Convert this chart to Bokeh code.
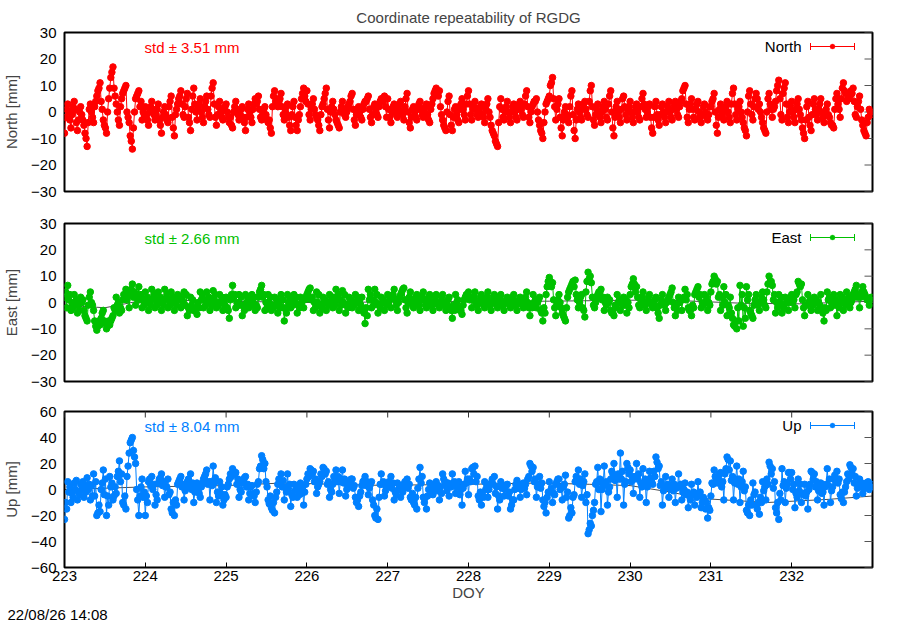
import numpy as np
from bokeh.plotting import figure
from bokeh.models import (Range1d, FixedTicker, LinearAxis, Label, Arrow, TeeHead,
                          BoxAnnotation, Title)
from bokeh.layouts import column
from bokeh.embed import file_html
from bokeh.resources import INLINE

# ---------------- data ----------------
start_doy = 223
samples_per_day = 25          # main epochs; two more epochs lie between each pair
x_min, x_max = 223, 233
x_ticks = [223, 224, 225, 226, 227, 228, 229, 230, 231, 232]
neu_ticks = [-30, -20, -10, 0, 10, 20, 30]
up_ticks = [-60, -40, -20, 0, 20, 40, 60]

north = [
    -8, 3, -6, 4, -7, 2, -5, -13, 3, -4, 6, 11, -3, -8, 9, 17, 3, -5, 7, 10, -4, -14, 5, 8, -3,
    2, -5, 4, -3, 3, -8, 2, -4, 6, -9, 3, 8, -2, 7, -7, 9, -3, 5, -4, 6, -2, 11, -5, 4, -3,
    3, -4, -6, 4, -3, 2, -7, 3, -4, 5, 6, -3, 2, -4, -8, 8, 2, 7, -3, 3, -7, 4, -7, 2, 9,
    8, -3, 5, -2, -7, 3, 9, -6, 4, -3, -6, 4, -2, 3, 7, -5, 2, -3, 4, 6, -4, 3, -2, 5, 6,
    5, -4, 3, -2, 4, -3, 7, -6, 2, -3, 4, -2, 3, -4, 5, 9, 8, -3, -7, 6, -7, 2, -4, 5, -3,
    8, -3, 4, -2, 3, -4, 5, -5, -9, -13, 5, -3, 4, -4, 3, -3, 4, -2, 8, -4, 3, 5, -5, -10, 3,
    6, 13, -3, 5, -9, 2, -4, 8, -10, 3, -3, 4, -2, 10, -5, 3, -4, 4, -3, 8, -9, 4, -4, 6, -3,
    4, -4, 3, -3, 7, -2, 3, -8, 4, -5, 3, -4, 4, -3, 4, -2, 5, 10, -4, 5, -3, 4, -4, 3, -3,
    2, 7, -8, 3, -3, 4, -4, 9, -3, 4, -4, -9, 8, -3, 7, 3, -4, -8, 7, -2, 4, 12, -3, 11, -4,
    4, -4, 5, -3, -10, 4, -7, 5, -3, 5, -4, 3, -4, -6, 7, -2, 11, 4, 6, 9, -2, 6, -5, -9, 1,
]
north_mid = [
    -2, 0, -1, 1, -3, -1, -8, -4, 0, 2, 8, 4, -5, 0, 13, 9, 0, 2, 8, 0, -9, -6, 6, 2, 0,
    -1, 0, 1, -1, -3, -2, -1, 2, -2, -1, 5, 3, 2, -2, 1, 3, 1, 0, 2, 1, 6, 3, -1, 0, 1,
    0, -2, 0, 1, -1, -2, -2, 0, 1, 3, 1, -1, -1, -3, 2, 4, 4, 2, 0, -2, -1, -2, -3, 5, 6,
    3, 1, 1, -3, -1, 5, 1, 0, 1, -4, 0, 1, 0, 4, 1, -1, 0, 1, 4, 1, -1, 0, 2, 5, 2,
    1, 0, 1, 1, 0, 2, 0, -2, 0, 1, 1, 0, -1, 1, 7, 8, 2, -5, 0, -1, -2, -1, 1, 1, 3,
    3, 1, 1, 0, -1, 1, 0, -7, -11, -4, 1, 0, 0, 0, 0, 1, 1, 3, 2, 0, 4, 0, -7, -4, 4,
    10, 5, 1, -2, -3, -1, 2, -1, -3, 0, 1, 1, 4, 2, -1, 0, 0, 1, 3, 0, -2, 0, 1, 2, 1,
    0, 0, 0, 2, 3, 0, -2, -2, -1, -1, 0, 0, 0, 1, 1, 2, 8, 3, 1, 1, 1, 0, -1, 0, -1,
    4, 0, -2, 0, 1, 0, 3, 3, 1, 0, -6, 0, 3, 2, 5, 0, -6, 0, 3, 1, 8, 5, 7, 3, 0,
    0, 1, 1, -6, -3, -2, -1, 1, 1, 0, 0, -1, -5, 1, 3, 5, 8, 5, 8, 4, 2, 1, -7, -4, 0,
]
north_mid2 = [
    1, -3, 2, -4, 0, -3, -10, 1, -2, 4, 9, 1, -6, 5, 15, 6, -3, 5, 9, -2, -11, 0, 7, 4, -1,
    -3, 2, -1, 1, -5, 0, -3, 4, -6, 1, 6, -1, 5, -4, 6, 0, 3, -2, 4, -1, 9, -2, 2, -2, 2,
    -2, -5, 2, -1, 1, -4, 1, -2, 3, 4, -2, 1, -3, -6, 6, 5, 5, -1, 2, -5, 2, -5, -1, 7, 4,
    -1, 3, -1, -5, 2, 7, -3, 2, -1, -5, 2, -1, 2, 6, -3, 1, -2, 3, 5, -2, 2, -1, 4, 4, -2,
    -2, 2, -1, 3, -1, 5, -4, 1, -2, 3, -1, 2, -3, 3, 8, 6, -1, -6, 4, -5, 1, -3, 3, -1, 6,
    -1, 2, -1, 2, -2, 3, -2, -8, -12, 2, -2, 2, -2, 2, -2, 3, -1, 6, -2, 2, 4, -3, -8, 0, 5,
    11, 2, 3, -6, 0, -2, 6, -7, 1, -2, 3, -1, 8, -3, 1, -2, 2, -2, 6, -6, 2, -2, 5, -1, 2,
    -2, 2, -2, 5, 1, 2, -6, 2, -3, 2, -2, 2, -2, 3, -1, 4, 9, -2, 3, -2, 3, -2, 2, -2, 2,
    5, -5, 1, -1, 2, -2, 7, -1, 2, -2, -7, 6, -1, 5, 1, -2, -7, 5, 1, 2, 10, -1, 9, -2, 2,
    -2, 3, -1, -8, 2, -5, 3, -1, 3, -2, 1, -2, -5, 5, 1, 9, 7, 5, 7, -1, 4, -3, -8, -2, -1,
]
east = [
    2, 6.5, -3, 3, -4, 2, -3, -7, 4, -3, -10.5, -8.5, -3, -10, -8.5, -5, 2, -4, 1, 5, -2, 7, -1, 6, -2,
    4, -3, 5, -2, 4, -3, 5, -2, 4, -3, 3, -2, 4, -5, 2, -3, -4.5, 4, -2, 4, -3, 4.5, -2, 3, -3,
    2, -6, 6.5, -2, 3, -5, 3, -2, 3, -3, 2, 6.5, -3, 3, -3, 2, -4, 3, -7, 3, -2, 3, -4, 2, -2,
    3, 5.5, -3, 4, -4, 2, -3, 3, -2, 5, -3, 4.5, -4, 2, -2, 3, -3, 2, -8, 5, -2, 5, -4, 2, -3,
    3, -2, 5, -3, 3, 5.5, -4, 4, -2, 3, -3, 4, -2, 3, -3, 3, -2, 3, -3, 2, -6, 3, -2, -4.5, 2,
    4, -2, 4, -3, 3, -2, 4, -3, 3, -2, 3, -3, 2, -2, 3, -3, 2, -2, 4, -5, 3, -2, 2, -7, 3,
    9.5, 7.5, -5, 3, -4, -7, 4, 7, 8.5, -2, 3, -5.5, 11.5, 7.5, -2, 3, 5, -3, 2, -3, -5, 3, -3, 2, -4,
    3, 9, 6, -2, 4, -3, 3, -2, 2, -6, 3, -3, 2, 5.5, -5, 2, -3, 5, -2, -5, 3, 6, -2, 3, -3,
    4, 10, 8, -3, 6, -5, 2, -8.5, -10, 6.5, -9, 6, -3, -6, 3, -3, 4, -2, 10, 6.5, -4, 3, -4, 2, -3,
    3, -2, 8, 7, -5, 3, -3, 2, -3, 3, -7, 4, -2, 3, -5, 3, -3, 4, -2, 3, 6.5, -2, 6, 2, -1,
]
east_mid = [
    4, 1, 0, -1, -1, 0, -5, -1, 0, -7, -9, -6, -7, -9, -7, -2, -1, -2, 3, 1, 3, 2, 3, 1, 1,
    0, 1, 1, 1, 0, 1, 1, 1, 0, 0, 1, 1, -1, -2, -1, -3, 0, 1, 1, 0, 1, 1, 0, 0, 0,
    -2, 1, 2, 0, -1, -1, 0, 0, 0, -1, 4, 2, 0, 0, -1, -1, 0, -2, -2, 0, 0, 0, -1, 0, 1,
    4, 1, 0, 0, -1, 0, 0, 0, 2, 1, 1, 0, -1, 0, 0, 0, 0, -3, -2, 1, 1, 0, -1, 0, 0,
    0, 2, 1, 0, 4, 1, 0, 1, 0, 0, 1, 1, 0, 0, 0, 0, 0, 0, -1, -2, -1, 0, -3, -1, 3,
    1, 1, 0, 0, 0, 1, 0, 0, 0, 1, 0, 0, 0, 0, 0, 0, 0, 1, 0, -1, 0, 0, -3, -2, 6,
    8, 1, -1, 0, -5, -2, 5, 8, 3, 0, -2, 4, 9, 2, 0, 4, 1, 0, 0, -4, -1, 0, 0, -1, 0,
    6, 7, 2, 1, 0, 0, 0, 0, -2, -1, 0, 0, 3, 0, -1, 0, 1, 1, -3, -1, 4, 2, 0, 0, 0,
    7, 9, 2, 2, 0, -1, -4, -9, -2, -1, -2, 1, -4, -1, 0, 0, 1, 4, 8, 1, 0, 0, -1, 0, 0,
    0, 3, 7, 1, -1, 0, 0, 0, 0, -2, -2, 1, 0, -1, -1, 0, 0, 1, 0, 4, 2, 2, 4, 1, 1,
]
east_mid2 = [
    -2, 3, -2, 1, -3, 1, -6, 2, -1, -9, -7, -4, -8, -7, -6, -3, 0, -3, 2, 3, 5, 4, 1, 3, -1,
    2, -1, 3, -1, 2, -1, 3, -1, 2, -1, 2, -1, 3, -3, 1, -2, -2, 3, -1, 2, -1, 3, -1, 2, -1,
    -3, 3, 3, -1, 2, -3, 2, -1, 2, -2, 5, 3, -2, 2, -2, 1, -2, 1, -4, 2, -1, 2, -2, 1, 2,
    5, 2, -2, 3, -2, 1, -1, 2, -1, 3, -1, 3, -2, 1, -1, 2, -1, -4, -5, 3, -1, 3, -2, 1, -1,
    2, 3, -1, 2, 5, -2, 2, -1, 2, -1, 2, -1, 2, -1, 2, -1, 2, -1, 1, -3, -3, 1, -3, 1, 3,
    2, 2, -1, 2, -1, 2, -1, 2, -1, 2, -1, 1, -1, 2, -1, 1, -1, 2, -2, -2, 1, 1, -4, -4, 8,
    6, -2, 1, -2, -6, 2, 6, 6, 1, 2, -3, 8, 10, -1, 2, 4, 2, -1, 1, -4, -2, 1, -1, 1, -2,
    7, 4, -1, 2, -1, 2, -1, 1, -4, 1, -1, 1, 4, -2, -3, 1, 2, 3, -3, -2, 5, 3, -1, 2, -1,
    8, 7, 3, -1, 3, -2, -6, -7, -7, 3, -6, 3, -5, 1, -1, 2, -1, 7, 8, 3, -2, 2, -2, 1, 2,
    1, 4, 6, -2, -1, 1, -1, 1, -1, -4, -3, 2, 1, 1, -2, 2, -1, 2, 1, 5, 3, 4, 3, 1, 2,
]
up = [
    -23, 6, -10, 5, -8, 4, -6, 9, -8, 12, -20, -17, 15, -20, 10, -8, -3, 22, -10, -15, 28, 40, 20, -20, 8,
    -20, 6, 10, -12, 5, 12, -6, 8, -15, -20, 4, 10, -8, 6, 12, -10, 5, -6, 8, 15, -8, 18, -10, 6, -12,
    -6, 8, 16, 13, -6, 5, 10, -8, 3, -10, 6, 26, 20, -8, -14, -18, 4, 12, -8, 12, -13, 4, -6, 5, -12,
    8, 16, 14, -3, 6, 17, 14, -6, 4, 15, -3, 15, -5, 4, 8, -6, -13, 3, 10, -4, 6, -20, -23, 12, -5,
    3, 10, -8, 5, -6, 4, 8, -6, -10, -15, 17, -6, -15, 5, -4, 6, -8, 12, 3, -5, 12, -3, 6, -12, 14,
    -4, 16, 18, -5, -12, 6, -6, 5, 10, -15, 6, -5, 4, -15, -8, 7, -6, 5, -4, 20, 17, -6, 10, -8, -18,
    6, -10, 4, 8, -8, 11, -22, -18, 6, 15, -6, 12, -34, -28, -10, 17, -17, 18, -12, 8, 20, -6, 28, -12, 20,
    15, -3, 20, -6, 16, -10, 14, 4, 25, 18, -12, 10, -6, 8, -10, 12, -8, 5, -14, 4, -12, 6, -14, -8, -22,
    -5, 15, 5, 13, -8, 25, 22, -8, 18, -10, 14, -16, -20, 5, -12, -19, 6, -8, 21, 16, -14, -23, 16, -10, 13,
    13, -14, 8, -10, 4, -15, 14, 12, -8, 5, -12, 16, -10, 8, 14, -4, -10, 6, 19, 16, -5, 8, -3, 5, 0,
]
up_mid = [
    -10, -2, -3, 0, -2, 0, 2, 0, 3, -5, -18, 0, -4, -5, 2, -5, 10, 6, -12, 10, 36, 30, 0, -5, -6,
    -5, 8, 0, -4, 8, 3, 2, -4, -18, -8, 6, 2, -1, 8, 0, -2, 0, 2, 10, 4, 6, 5, -2, -3, -8,
    2, 12, 14, 4, 0, 7, 2, -3, -4, -2, 16, 23, 6, -11, -16, -6, 8, 2, 2, 0, -4, -1, 0, -3, -2,
    12, 15, 6, 2, 12, 16, 4, 0, 10, 6, 6, 5, 0, 6, 1, -10, -5, 6, 3, 1, -8, -22, -6, 4, -1,
    6, 1, -2, 0, 0, 6, 1, -8, -12, 1, 5, -10, -5, 0, 1, -1, 2, 8, -1, 4, 5, 2, -4, 1, 5,
    8, 17, 6, -8, -3, 0, 0, 8, -3, -5, 1, 0, -5, -12, 0, 1, 0, 1, 8, 18, 6, 2, 1, -13, -6,
    -2, -3, 6, 0, 2, -6, -20, -6, 10, 4, 3, -10, -31, -20, 4, 0, 0, 3, -2, 14, 7, 12, 8, 4, 17,
    6, 8, 8, 5, 3, 2, 9, 14, 21, 3, -1, 2, 1, -1, 1, 2, -2, -4, -5, -4, -3, -4, -10, -15, -14,
    5, 10, 9, 2, 12, 23, 7, 5, 4, 2, -1, -18, -8, -4, -15, -6, -1, 8, 18, 1, -18, -3, 3, 1, 13,
    0, -3, -1, -3, -5, 0, 13, 2, -1, -3, 2, 3, -1, 11, 5, -7, -2, 12, 17, 5, 1, 2, 1, 3, 2,
]
up_mid2 = [
    -15, 2, -6, 7, -4, 6, -2, 4, -5, 6, -12, 5, 8, -12, 5, 2, 14, 12, -5, 18, 38, 25, -8, 2, -2,
    -10, 3, 4, -8, 9, 6, 2, -2, -10, -12, 8, 4, 2, 2, 5, 3, -3, 5, 12, 6, 3, 9, -5, 2, -4,
    4, 10, 12, 8, -2, 9, 4, 2, -5, 4, 18, 16, 2, -5, -10, -2, 6, 7, -2, 4, -6, 3, -4, 2, 4,
    10, 12, 8, 4, 10, 12, 6, -2, 8, 10, 8, 8, 2, 8, 3, -8, -2, 7, 6, 4, -12, -15, 4, 6, 2,
    4, 5, -4, 2, -2, 3, 4, -3, -6, 8, 10, -6, 0, 4, 2, 3, -3, 6, 5, 2, 6, 2, 0, 4, 8,
    6, 12, 10, -2, -6, 3, 4, 4, 2, -8, 3, 3, -2, -8, 4, 4, 2, 4, 10, 14, 8, 4, 5, -10, -2,
    1, -4, 8, 2, 4, -2, -14, -4, 8, 8, 6, -4, -26, -16, 6, 8, 4, 6, 2, 12, 10, 8, 14, 6, 12,
    10, 10, 12, 2, 8, 6, 6, 10, 16, 6, 2, 4, 3, 4, 2, 4, 0, -2, -8, -2, -6, -2, -6, -10, -16,
    4, 8, 12, 6, 16, 15, 10, 8, 8, 6, 2, -12, -12, -2, -10, -10, 2, 4, 12, 6, -10, -8, 6, 4, 8,
    4, -6, 4, -4, -2, 4, 8, 6, 2, -2, 4, 8, 2, 6, 8, -2, 2, 8, 12, 10, 4, 5, 2, 6, 4,
]

east_trend_doy = [223, 223.5, 224, 226, 227.5, 229, 230.4, 231.4, 232.1, 233]
east_trend = [-1, -2, 1, 0, 0.3, 0.5, 1, -0.3, -0.5, 0.5]
up_trend_doy = [223, 224, 225, 225.7, 226.9, 228, 228.9, 229.5, 230, 230.5, 230.9, 231.7, 232.45, 233]
up_trend = [0, 2, 3, 5, 3.2, 4, 5, 4, 3, -2, -7, -10, -7.6, -5]

names = ["North", "East", "Up"]
std_values = [3.51, 2.66, 8.04]
colors = ["#ff0000", "#00c000", "#0080ff"]
title_text = "Coordinate repeatability of RGDG"
x_label = "DOY"
timestamp = "22/08/26 14:08"

FONT = "Liberation Sans"
FS = "15px"
FRAME_W = 808


def series(*parts):
    n = len(parts)
    step = 1.0 / samples_per_day
    t_main = start_doy + np.arange(len(parts[0])) * step
    t = np.column_stack([t_main + k * step / n for k in range(n)]).ravel()
    v = np.column_stack([np.asarray(p_, float) for p_ in parts]).ravel()
    return t, v


def make_panel(parts, trend_x, trend_y, color, name, std, yticks, ylim,
               frame_h, b_top, b_bottom, bottom_axis=False, title=None):
    doy, vals = series(*parts)
    p = figure(frame_width=FRAME_W, frame_height=frame_h,
               min_border_left=57, min_border_right=19,
               min_border_top=b_top, min_border_bottom=b_bottom,
               x_range=Range1d(x_min, x_max), y_range=Range1d(*ylim),
               x_axis_location=None, y_axis_location=None,
               output_backend="svg", toolbar_location=None)
    p.grid.visible = False
    p.outline_line_color = "black"
    p.outline_line_width = 2
    p.background_fill_color = "white"
    p.border_fill_color = "white"

    if title:
        p.title.text = title
        p.title.align = "center"
        p.title.text_font = FONT
        p.title.text_font_size = FS
        p.title.text_font_style = "normal"
        p.title.standoff = 13
        p.title.offset = 0

    left = LinearAxis(ticker=FixedTicker(ticks=yticks), axis_label=f"{name} [mm]")
    left.major_tick_in = 0
    left.major_tick_out = 0
    left.minor_tick_in = 0
    left.minor_tick_out = 0
    left.axis_line_color = None
    left.major_label_text_font = FONT
    left.major_label_text_font_size = FS
    left.major_label_text_color = "black"
    left.major_label_standoff = 8
    left.axis_label_text_font = FONT
    left.axis_label_text_font_size = FS
    left.axis_label_text_font_style = "normal"
    left.axis_label_standoff = 8
    p.add_layout(left, "left")

    # mirrored tick marks on the right edge (half of each dash is clipped by the frame)
    p.scatter([x_max] * len(yticks), yticks, marker="dash", size=16,
              line_color="#555555", line_width=1)

    if bottom_axis:
        bot = LinearAxis(ticker=FixedTicker(ticks=x_ticks), axis_label=x_label)
        bot.major_tick_in = 5
        bot.major_tick_out = 0
        bot.minor_tick_in = 0
        bot.minor_tick_out = 0
        bot.axis_line_color = None
        bot.major_label_text_font = FONT
        bot.major_label_text_font_size = FS
        bot.major_label_text_color = "black"
        bot.major_label_standoff = 3
        bot.axis_label_text_font = FONT
        bot.axis_label_text_font_size = FS
        bot.axis_label_text_font_style = "normal"
        bot.axis_label_standoff = 0
        p.add_layout(bot, "below")
        # mirrored tick marks on the top edge
        p.scatter(x_ticks, [ylim[1]] * len(x_ticks), marker="dash", angle=np.pi / 2,
                  size=12, line_color="#333333", line_width=1)
        p.add_layout(Title(text=timestamp, align="left", offset=-57, standoff=0,
                           text_font=FONT, text_font_size=FS, text_font_style="normal",
                           text_color="black"), "below")

    # trend
    if trend_x is not None:
        p.line(trend_x, trend_y, line_color="black", line_width=0.7)
    # series
    p.line(doy, vals, line_color=color, line_width=1)
    p.scatter(doy, vals, marker="circle", size=6.5, fill_color=color, line_color=color)

    # std text
    p.add_layout(Label(x=80, y=frame_h - 15, x_units="screen", y_units="screen",
                       text=f"std \u00b1 {std:.2f} mm", text_font=FONT, text_font_size=FS,
                       text_color=color, text_baseline="middle"))
    # legend
    ly = frame_h - 14
    p.add_layout(Label(x=737, y=ly, x_units="screen", y_units="screen",
                       text=name, text_font=FONT, text_font_size=FS,
                       text_color="black", text_align="right", text_baseline="middle"))
    p.add_layout(Arrow(x_start=746, y_start=ly, x_end=790, y_end=ly,
                       start_units="screen", end_units="screen",
                       start=TeeHead(size=7, line_color=color, line_width=1),
                       end=TeeHead(size=7, line_color=color, line_width=1),
                       line_color=color, line_width=1))
    p.add_layout(BoxAnnotation(left=765.5, right=770.5, bottom=ly - 2.5, top=ly + 2.5,
                               left_units="screen", right_units="screen",
                               top_units="screen", bottom_units="screen",
                               fill_color=color, fill_alpha=1, line_color=color,
                               border_radius=3))
    return p


p1 = make_panel([north, north_mid, north_mid2], None, None, colors[0], names[0],
                std_values[0], neu_ticks, (-30, 30), 159, 25, 16, title=title_text)
p2 = make_panel([east, east_mid, east_mid2], east_trend_doy, east_trend, colors[1], names[1],
                std_values[1], neu_ticks, (-30, 30), 158, 16, 16)
p3 = make_panel([up, up_mid, up_mid2], up_trend_doy, up_trend, colors[2], names[2],
                std_values[2], up_ticks, (-60, 60), 156, 14, 54, bottom_axis=True)

layout = column(p1, p2, p3, spacing=0)
open("out.html", "w").write(file_html(layout, INLINE))
